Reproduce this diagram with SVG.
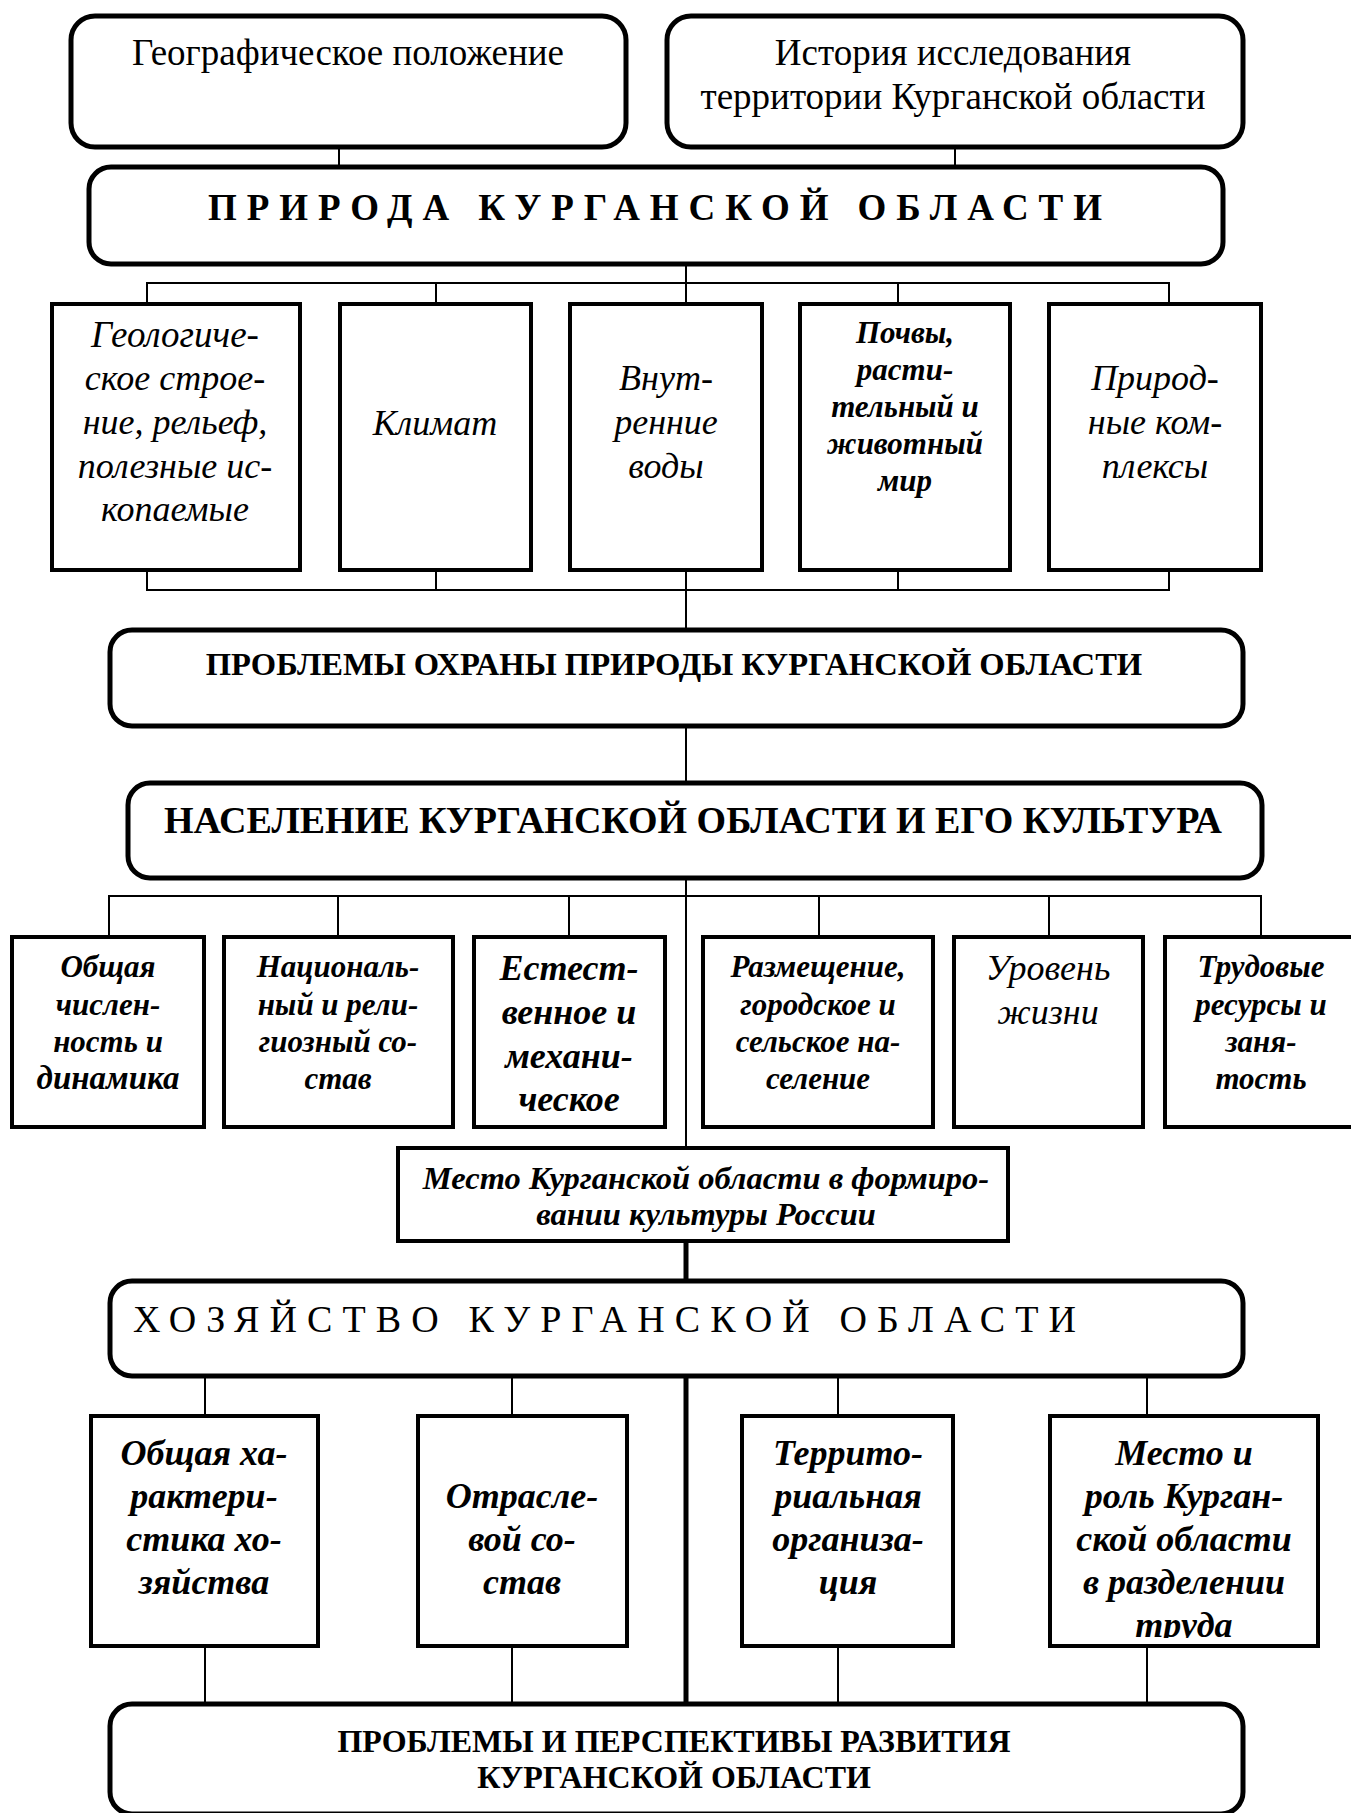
<svg xmlns="http://www.w3.org/2000/svg" width="1351" height="1813" viewBox="0 0 1351 1813">
<style>
.rbox{fill:#fff;stroke:#000;stroke-width:5}
.box{fill:#fff;stroke:#000;stroke-width:4}
.ln{stroke:#000;stroke-width:2;fill:none}
.thick{stroke:#000;stroke-width:5;fill:none}
text{font-family:"Liberation Serif","Times New Roman",serif;fill:#000;text-anchor:middle}
.i{font-style:italic;font-size:36px}
.bi{font-style:italic;font-weight:bold;font-size:31px}
.bi2{font-style:italic;font-weight:bold;font-size:36px}
.r{font-size:37px}
</style>
<defs>
<clipPath id="clipTrud"><rect x="1050" y="1416" width="268" height="222"/></clipPath>
</defs>
<g id="connectors">
<line class="ln" x1="339" y1="148" x2="339" y2="166"/>
<line class="ln" x1="955" y1="148" x2="955" y2="166"/>
<line class="ln" x1="686" y1="264" x2="686" y2="283"/>
<polyline class="ln" points="147,302 147,283 1169,283 1169,302"/>
<line class="ln" x1="436" y1="283" x2="436" y2="302"/>
<line class="ln" x1="686" y1="283" x2="686" y2="302"/>
<line class="ln" x1="898" y1="283" x2="898" y2="302"/>
<polyline class="ln" points="147,572 147,590 1169,590 1169,572"/>
<line class="ln" x1="436" y1="572" x2="436" y2="590"/>
<line class="ln" x1="686" y1="572" x2="686" y2="628"/>
<line class="ln" x1="898" y1="572" x2="898" y2="590"/>
<line class="ln" x1="686" y1="727" x2="686" y2="782"/>
<line class="ln" x1="686" y1="879" x2="686" y2="1147"/>
<polyline class="ln" points="109,935 109,896 1261,896 1261,935"/>
<line class="ln" x1="338" y1="896" x2="338" y2="935"/>
<line class="ln" x1="569" y1="896" x2="569" y2="935"/>
<line class="ln" x1="819" y1="896" x2="819" y2="935"/>
<line class="ln" x1="1049" y1="896" x2="1049" y2="935"/>
<line class="thick" x1="686" y1="1243" x2="686" y2="1280"/>
<line class="thick" x1="686" y1="1376" x2="686" y2="1703"/>
<line class="ln" x1="205" y1="1377" x2="205" y2="1414"/>
<line class="ln" x1="512" y1="1377" x2="512" y2="1414"/>
<line class="ln" x1="838" y1="1377" x2="838" y2="1414"/>
<line class="ln" x1="1147" y1="1377" x2="1147" y2="1414"/>
<line class="ln" x1="205" y1="1648" x2="205" y2="1703"/>
<line class="ln" x1="512" y1="1648" x2="512" y2="1703"/>
<line class="ln" x1="838" y1="1648" x2="838" y2="1703"/>
<line class="ln" x1="1147" y1="1648" x2="1147" y2="1703"/>
</g>
<g id="geo">
<rect class="rbox" x="71" y="16" width="555" height="131" rx="24"/>
<text class="r" x="348" y="65">Географическое положение</text>
</g>
<g id="history">
<rect class="rbox" x="667" y="16" width="576" height="131" rx="24"/>
<text class="r" x="953" y="65">История исследования</text>
<text class="r" x="953" y="109">территории Курганской области</text>
</g>
<g id="priroda">
<rect class="rbox" x="89" y="167" width="1134" height="97" rx="22"/>
<text x="208" y="220" style="text-anchor:start;font-weight:bold;font-size:37px" textLength="894" lengthAdjust="spacing">ПРИРОДА  КУРГАНСКОЙ  ОБЛАСТИ</text>
</g>
<g id="geology">
<rect class="box" x="52" y="304" width="248" height="266"/>
<text class="i" x="175" y="347" style="font-size:37px">Геологиче-</text>
<text class="i" x="175" y="390">ское строе-</text>
<text class="i" x="175" y="434">ние, рельеф,</text>
<text class="i" x="175" y="478">полезные ис-</text>
<text class="i" x="175" y="521">копаемые</text>
</g>
<g id="climate">
<rect class="box" x="340" y="304" width="191" height="266"/>
<text class="i" x="435" y="435">Климат</text>
</g>
<g id="waters">
<rect class="box" x="570" y="304" width="192" height="266"/>
<text class="i" x="666" y="390">Внут-</text>
<text class="i" x="666" y="434">ренние</text>
<text class="i" x="666" y="478">воды</text>
</g>
<g id="soils">
<rect class="box" x="800" y="304" width="210" height="266"/>
<text class="bi" x="905" y="343">Почвы,</text>
<text class="bi" x="905" y="380">расти-</text>
<text class="bi" x="905" y="417">тельный и</text>
<text class="bi" x="905" y="454">животный</text>
<text class="bi" x="905" y="491">мир</text>
</g>
<g id="complexes">
<rect class="box" x="1049" y="304" width="212" height="266"/>
<text class="i" x="1155" y="390">Природ-</text>
<text class="i" x="1155" y="434">ные ком-</text>
<text class="i" x="1155" y="478">плексы</text>
</g>
<g id="protection">
<rect class="rbox" x="110" y="630" width="1133" height="96" rx="22"/>
<text x="674" y="675" style="font-weight:bold;font-size:32.6px">ПРОБЛЕМЫ ОХРАНЫ ПРИРОДЫ КУРГАНСКОЙ ОБЛАСТИ</text>
</g>
<g id="population">
<rect class="rbox" x="128" y="783" width="1134" height="95" rx="22"/>
<text x="693" y="833" style="font-weight:bold;font-size:38px">НАСЕЛЕНИЕ КУРГАНСКОЙ ОБЛАСТИ И ЕГО КУЛЬТУРА</text>
</g>
<g id="total">
<rect class="box" x="12" y="937" width="192" height="190"/>
<text class="bi" x="108" y="977">Общая</text>
<text class="bi" x="108" y="1015">числен-</text>
<text class="bi" x="108" y="1052">ность и</text>
<text class="bi" x="108" y="1089" style="font-size:33px">динамика</text>
</g>
<g id="national">
<rect class="box" x="224" y="937" width="229" height="190"/>
<text class="bi" x="338" y="977">Националь-</text>
<text class="bi" x="338" y="1015">ный и рели-</text>
<text class="bi" x="338" y="1052">гиозный со-</text>
<text class="bi" x="338" y="1089">став</text>
</g>
<g id="natural">
<rect class="box" x="474" y="937" width="191" height="190"/>
<text class="bi2" x="569" y="980">Естест-</text>
<text class="bi2" x="569" y="1024">венное и</text>
<text class="bi2" x="569" y="1068">механи-</text>
<text class="bi2" x="569" y="1111">ческое</text>
</g>
<g id="placement">
<rect class="box" x="703" y="937" width="230" height="190"/>
<text class="bi" x="818" y="977">Размещение,</text>
<text class="bi" x="818" y="1015">городское и</text>
<text class="bi" x="818" y="1052">сельское на-</text>
<text class="bi" x="818" y="1089">селение</text>
</g>
<g id="living">
<rect class="box" x="954" y="937" width="189" height="190"/>
<text class="i" x="1048" y="980">Уровень</text>
<text class="i" x="1048" y="1024">жизни</text>
</g>
<g id="labour">
<rect class="box" x="1165" y="937" width="200" height="190"/>
<text class="bi" x="1261" y="977">Трудовые</text>
<text class="bi" x="1261" y="1015">ресурсы и</text>
<text class="bi" x="1261" y="1052">заня-</text>
<text class="bi" x="1261" y="1089">тость</text>
</g>
<g id="culture">
<rect class="box" x="398" y="1148" width="610" height="93"/>
<text x="706" y="1189" style="font-style:italic;font-weight:bold;font-size:32.5px">Место Курганской области в формиро-</text>
<text x="706" y="1225" style="font-style:italic;font-weight:bold;font-size:32.5px">вании культуры России</text>
</g>
<g id="economy">
<rect class="rbox" x="110" y="1281" width="1133" height="95" rx="22"/>
<text x="133" y="1332" style="text-anchor:start;font-size:38px" textLength="943" lengthAdjust="spacing">ХОЗЯЙСТВО  КУРГАНСКОЙ  ОБЛАСТИ</text>
</g>
<g id="general">
<rect class="box" x="91" y="1416" width="227" height="230"/>
<text class="bi2" x="204" y="1465">Общая ха-</text>
<text class="bi2" x="204" y="1508">рактери-</text>
<text class="bi2" x="204" y="1551">стика хо-</text>
<text class="bi2" x="204" y="1594">зяйства</text>
</g>
<g id="branch">
<rect class="box" x="418" y="1416" width="209" height="230"/>
<text class="bi2" x="522" y="1508">Отрасле-</text>
<text class="bi2" x="522" y="1551">вой со-</text>
<text class="bi2" x="522" y="1594">став</text>
</g>
<g id="territorial">
<rect class="box" x="742" y="1416" width="211" height="230"/>
<text class="bi2" x="848" y="1465">Террито-</text>
<text class="bi2" x="848" y="1508">риальная</text>
<text class="bi2" x="848" y="1551">организа-</text>
<text class="bi2" x="848" y="1594">ция</text>
</g>
<g id="role">
<rect class="box" x="1050" y="1416" width="268" height="230"/>
<text class="bi2" x="1184" y="1465">Место и</text>
<text class="bi2" x="1184" y="1508">роль Курган-</text>
<text class="bi2" x="1184" y="1551">ской области</text>
<text class="bi2" x="1184" y="1594">в разделении</text>
<text class="bi2" x="1184" y="1637" clip-path="url(#clipTrud)">труда</text>
</g>
<g id="prospects">
<rect class="rbox" x="110" y="1704" width="1133" height="110" rx="22"/>
<text x="674" y="1752" style="font-weight:bold;font-size:32px">ПРОБЛЕМЫ И ПЕРСПЕКТИВЫ РАЗВИТИЯ</text>
<text x="674" y="1788" style="font-weight:bold;font-size:32px">КУРГАНСКОЙ ОБЛАСТИ</text>
</g>
</svg>
